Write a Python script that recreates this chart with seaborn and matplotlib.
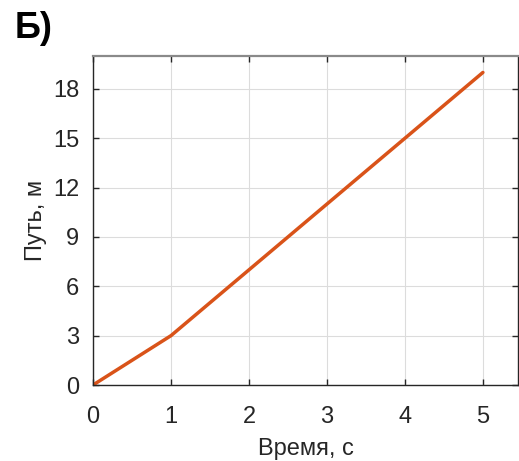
import matplotlib
matplotlib.use("Agg")
import matplotlib.pyplot as plt
import seaborn as sns
import pandas as pd

time_s = [0, 1, 2, 3, 4, 5]
path_m = [0, 3, 7, 11, 15, 19]
x_ticks = [0, 1, 2, 3, 4, 5]
y_ticks = [0, 3, 6, 9, 12, 15, 18]

sns.set_theme(style="whitegrid")
plt.rcParams['font.family'] = ['Liberation Sans', 'DejaVu Sans']

df = pd.DataFrame({"t": time_s, "s": path_m})
fig = plt.figure(figsize=(5.19, 4.61), dpi=100)
ax = fig.add_axes([93/519, 76/461, 425/519, 329/461])
sns.lineplot(data=df, x="t", y="s", ax=ax, color="#D95319", linewidth=2.5)

ax.set_xlim(0, 5.45)
ax.set_ylim(0, 20)
ax.set_xticks(x_ticks)
ax.set_yticks(y_ticks)
ax.grid(True, color="#DCDCDC", linewidth=0.8)
for sp in ax.spines.values():
    sp.set_visible(True)
    sp.set_color("#262626")
    sp.set_linewidth(1.0)
ax.spines['top'].set_color("#8a8a8a")
ax.spines['top'].set_linewidth(1.6)
ax.tick_params(direction="in", length=4, width=1, colors="#262626", labelsize=17,
               top=True, right=True, bottom=True, left=True)
ax.tick_params(axis="x", pad=15)
ax.tick_params(axis="y", pad=10)
ax.set_xlabel("Время, с", fontsize=17, color="#262626", labelpad=7)
ax.set_ylabel("Путь, м", fontsize=17, color="#262626", labelpad=4)
fig.text(15/519, 1 - 28/461, "Б)", fontsize=26, fontweight="bold", color="black",
         va="center", ha="left")
fig.savefig("out.png", dpi=100)
